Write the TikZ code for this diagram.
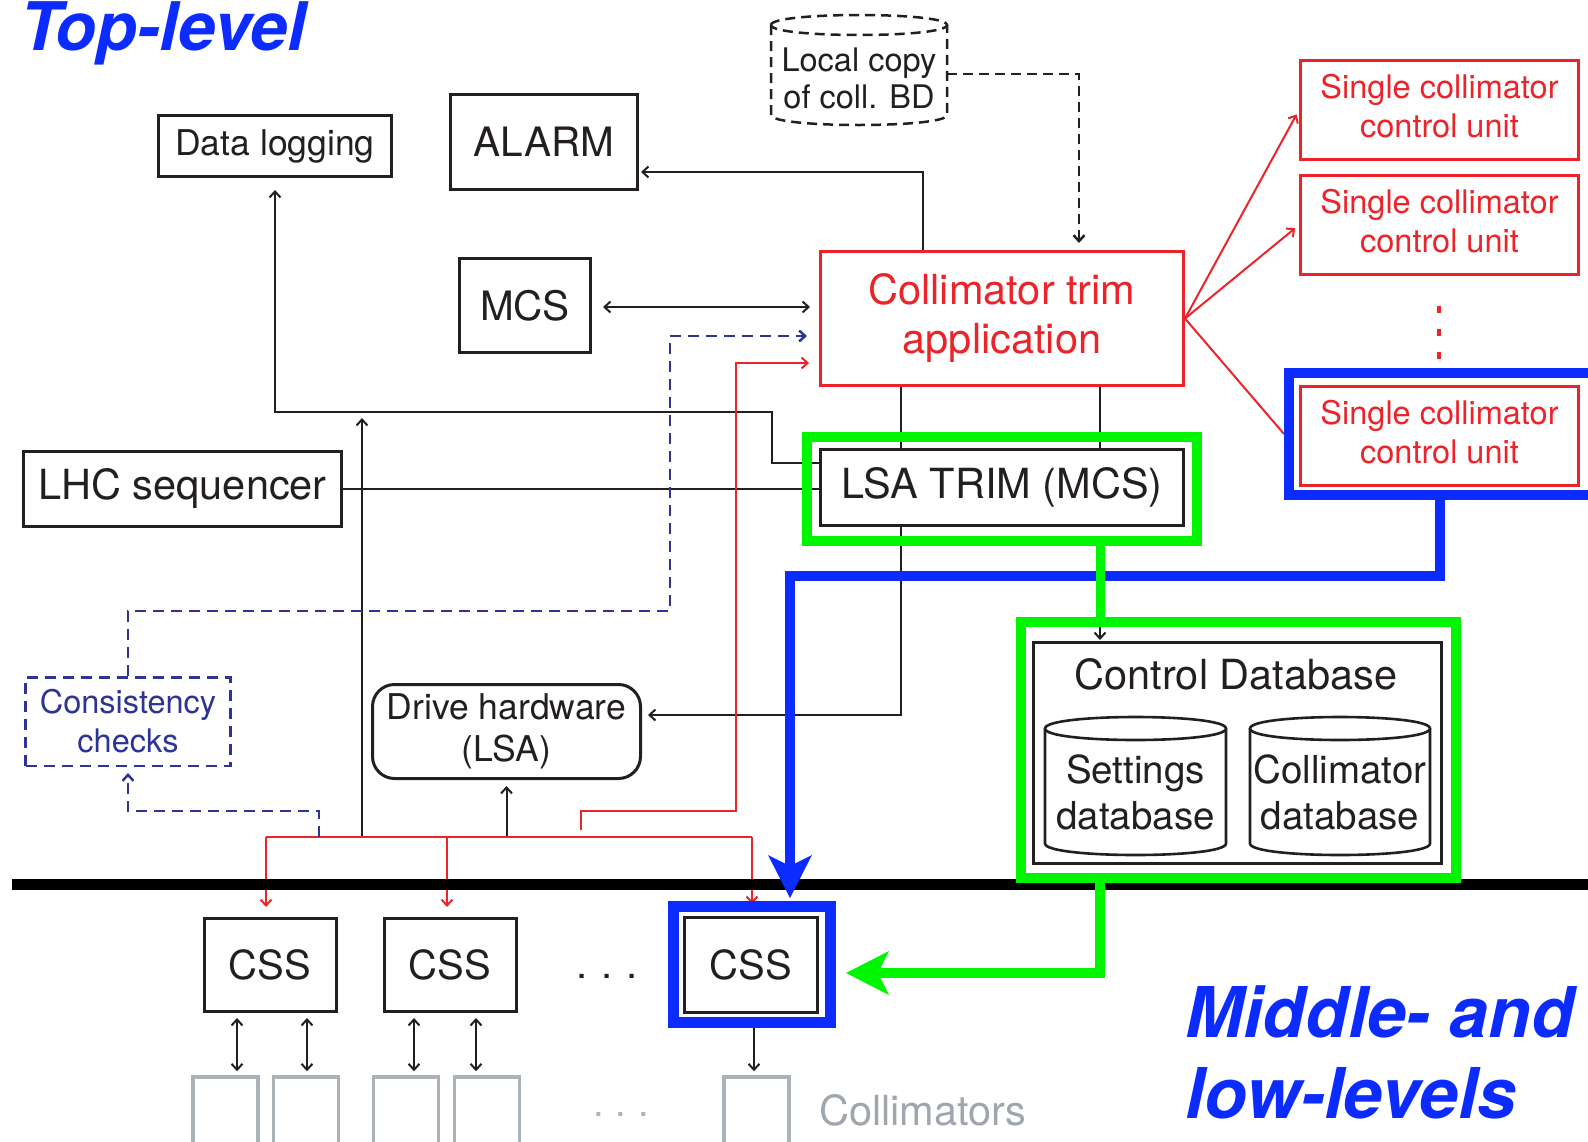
\documentclass[tikz,border=0pt]{standalone}
\usepackage{fontspec}
\setmainfont{TeX Gyre Heros}
\usetikzlibrary{arrows.meta}
\pgfdeclarelayer{back}
\pgfdeclarelayer{mid}
\pgfsetlayers{back,mid,main}

\definecolor{ink}{RGB}{35,31,32}
\definecolor{cred}{RGB}{236,36,42}
\definecolor{cblue}{RGB}{12,44,255}
\definecolor{cgreen}{RGB}{0,245,0}
\definecolor{cnavy}{RGB}{46,52,150}
\definecolor{cgray}{RGB}{172,178,186}
\definecolor{cgraytext}{RGB}{160,166,174}

\newcommand\fsz[2]{\fontsize{#1pt}{#2pt}\selectfont}

% database cylinder: #1 style, #2 left x, #3 right x, #4 top rim y, #5 bottom rim y, #6 rim half-height
\newcommand\dbcylinder[6]{%
  \draw[#1] (#2,#4) -- (#2,#5) .. controls (#2,{#5+1.3333*#6}) and (#3,{#5+1.3333*#6}) .. (#3,#5) -- (#3,#4);
  \draw[#1] (#2,#4) .. controls (#2,{#4-1.3333*#6}) and (#3,{#4-1.3333*#6}) .. (#3,#4)
            .. controls (#3,{#4+1.3333*#6}) and (#2,{#4+1.3333*#6}) .. (#2,#4) -- cycle;
}

\tikzset{
  barb/.tip={Straight Barb[length=6pt,width=11pt]},
  conn/.style={line width=2pt, draw=ink},
  heavy/.style={line width=2.6pt, draw=ink},
  arr/.style={conn, -barb, shorten >=6pt},
  darr/.style={conn, barb-barb},
  redl/.style={line width=2pt, draw=cred},
  redarr/.style={redl, -barb, shorten >=10pt},
  navyd/.style={line width=2.5pt, draw=cnavy, dash pattern=on 11pt off 7pt, -barb},
  blackd/.style={line width=2.5pt, draw=ink, dash pattern=on 10pt off 6pt},
  box/.style={draw=ink, line width=3pt, fill=white, inner sep=0pt, align=center, text=ink},
  unitbox/.style={box, draw=cred, text=cred, minimum width=278pt, minimum height=99pt, font=\fsz{32.5}{39}},
  cssbox/.style={box, minimum width=132pt, minimum height=93pt, font=\fsz{40}{48}},
  colbox/.style={draw=cgray, line width=3.5pt, inner sep=0pt, minimum width=65pt, minimum height=140pt},
  label/.style={inner sep=0pt, align=center, text=ink},
  heading/.style={text=cblue, font=\fsz{68}{81}\bfseries\itshape, inner sep=0pt, anchor=base west},
  ring/.style={inner sep=0pt, line width=10pt, fill=none},
  bigtip/.tip={Stealth[length=43pt,width=44pt,inset=11pt,line width=0pt]},
}

\begin{document}
\begin{tikzpicture}[x=1pt,y=-1pt,line join=miter]
\useasboundingbox (0,0) rectangle (1588,1141);
\clip (0,0) rectangle (1588,1141);

% ---------- headings ----------
\node[heading, font=\fsz{67}{81}\bfseries\itshape] (toplev) at (20,50) {Top-level};
\node[heading, font=\fsz{70}{81}\bfseries\itshape] (midlevA) at (1185,1037) {Middle- and};
\node[heading, font=\fsz{70}{81}\bfseries\itshape] (midlevB) at (1185,1118) {low-levels};

% ---------- top-level boxes ----------
\node[box, minimum width=233pt, minimum height=61pt, font=\fsz{35.5}{40}] (datalog) at (275,146) {Data logging};
\node[box, minimum width=187pt, minimum height=95pt, font=\fsz{40.5}{48}] (alarm) at (544,142) {ALARM};
\node[box, minimum width=131pt, minimum height=94pt, font=\fsz{40.5}{48}] (mcs) at (525,305.5) {MCS};
\node[label, minimum width=176pt, minimum height=110pt, font=\fsz{32.5}{37}] (localcopy) at (859,78) {Local copy\\of coll. BD};
\dbcylinder{blackd}{771}{947}{25}{115}{10}

\node[box, draw=cred, text=cred, minimum width=363pt, minimum height=134pt, font=\fsz{41.5}{49}] (trim) at (1002,318.5) {Collimator trim\\application};
\node[unitbox] (unitA) at (1439.5,110) {Single collimator\\control unit\rule[-8pt]{0pt}{0pt}};
\node[unitbox] (unitB) at (1439.5,225) {Single collimator\\control unit\rule[-8pt]{0pt}{0pt}};
\node[unitbox] (unitC) at (1439.5,435.5) {Single collimator\\control unit\rule[-8pt]{0pt}{0pt}};
\fill[cred] (1437,306) rectangle (1441,313);
\fill[cred] (1437,329) rectangle (1441,336);
\fill[cred] (1437,352) rectangle (1441,359);

\node[box, minimum width=363pt, minimum height=76pt, font=\fsz{41.5}{48}] (lsatrim) at (1002,487.5) {LSA TRIM (MCS)};
\node[box, minimum width=318pt, minimum height=75pt, font=\fsz{41.5}{48}] (lhcseq) at (182.5,489) {LHC sequencer};
\node[box, draw=cnavy, text=cnavy, line width=2.5pt, dash pattern=on 11pt off 7pt,
      minimum width=205pt, minimum height=88.5pt, font=\fsz{32.5}{39}] (consist) at (128,721.5) {Consistency\\checks};
\node[box, rounded corners=22pt, minimum width=268pt, minimum height=94pt, font=\fsz{35.5}{42}] (drive) at (506.5,731.5) {\rule{0pt}{16pt}Drive hardware\\(LSA)};

% ---------- control database ----------
\node[box, minimum width=408pt, minimum height=221pt] (ctrldb) at (1237.5,753) {};
\node[label, font=\fsz{41.5}{48}] (ctrltitle) at (1236,674) {Control Database};
\dbcylinder{line width=2.6pt, draw=ink}{1045}{1226}{728.5}{843.5}{11.5}
\dbcylinder{line width=2.6pt, draw=ink}{1250}{1430}{728.5}{843.5}{11.5}
\node[label, font=\fsz{38.5}{46}] (setdb) at (1135.5,792) {Settings\\database};
\node[label, font=\fsz{38.5}{46}] (colldb) at (1340,792) {Collimator\\database};

% ---------- middle / low level ----------
\node[cssbox] (css1) at (270,965) {CSS};
\node[cssbox] (css2) at (450,965) {CSS};
\node[cssbox, minimum width=133pt, minimum height=95pt] (css3) at (751,965) {CSS};
\node[label, font=\fsz{40}{48}, anchor=base] (cssdots) at (607,978) {.\hspace{14pt}.\hspace{14pt}.};

\node[colbox] (col1) at (225.5,1147) {};
\node[colbox] (col2) at (306,1147) {};
\node[colbox] (col3) at (406,1147) {};
\node[colbox] (col4) at (487,1147) {};
\node[colbox] (col5) at (756.5,1147) {};
\node[inner sep=0pt, text=cgray, font=\fsz{38}{46}, anchor=base] (coldots) at (621,1116) {.\hspace{12pt}.\hspace{12pt}.};
\node[inner sep=0pt, text=cgraytext, font=\fsz{41.5}{48}, anchor=base west] (colltext) at (819,1125) {Collimators};

% ---------- highlight frames ----------
\node[ring, draw=cgreen, minimum width=390pt, minimum height=104pt] (lsaring) at (1002,489) {};
\node[ring, draw=cgreen, minimum width=435pt, minimum height=256pt] (ctrlring) at (1238.5,750) {};
\node[ring, draw=cblue, minimum width=331pt, minimum height=122pt] (ringC) at (1454.5,434) {};
\node[ring, draw=cblue, minimum width=157pt, minimum height=116pt, line width=11pt] (cssring) at (752,964.5) {};

% ---------- bus coordinates ----------
\coordinate (busA) at (266,837);
\coordinate (busB) at (447,837);
\coordinate (busC) at (752,837);
\coordinate (busLog) at (362,837);
\coordinate (busCheck) at (319,837);
\coordinate (logLine) at (362,412);
\coordinate (redStub) at (581,830);

% ---------- thin connectors ----------
\begin{pgfonlayer}{back}
  \draw[arr, shorten >=2pt] (trim.north -| 923,0) |- (alarm.east |- 0,172);
  \draw[darr, shorten <=11pt, shorten >=9pt] (mcs.east |- 0,307) -- (trim.west |- 0,307);
  \draw[arr, shorten >=12pt] (lsatrim.west |- 0,463) -| (772,412) -| (datalog.south);
  \draw[heavy] (lhcseq.east) -- (lsatrim.west |- lhcseq.east);
  \draw[conn] (trim.south -| 1100,0) -- (lsatrim.north -| 1100,0);
  \draw[arr] (trim.south -| 901,0) |- (drive.east |- 0,715);
  \draw[arr] (busLog) -- (logLine);
  \draw[arr] (drive.south |- 0,837) -- (drive.south);
  \draw[arr, shorten >=1pt] (ctrlring.north -| 1100,0) -- (ctrldb.north -| 1100,0);
  \draw[blackd, -barb, shorten >=7pt] (localcopy.east |- 0,74) -| (trim.north -| 1079,0);

  % red control paths
  \draw[redl] (busA) -- (busC);
  \draw[redarr] (busA) -- (css1.north -| busA);
  \draw[redarr] (busB) -- (css2.north -| busB);
  \draw[redarr, shorten >=12pt] (busC) -- (css3.north -| busC);
  \draw[redarr] (redStub) |- (736,811) |- (trim.west |- 0,363);
  \draw[redarr, shorten >=5pt] (trim.east) -- (unitA.west);
  \draw[redarr, shorten >=5pt] (trim.east) -- (unitB.west);
  \draw[redl] (trim.east) -- (ringC.west);

  % consistency checks
  \draw[navyd, shorten >=12pt] (consist.north) |- (670,611) |- (trim.west |- 0,336);
  \draw[navyd, shorten >=6pt] (busCheck) -- (319,811) -| (consist.south);

  % CSS to collimators
  \draw[darr, shorten <=5pt, shorten >=4pt] (css1.south -| 237,0) -- (col1.north -| 237,0);
  \draw[darr, shorten <=5pt, shorten >=4pt] (css1.south -| 307,0) -- (col2.north -| 307,0);
  \draw[darr, shorten <=5pt, shorten >=4pt] (css2.south -| 414,0) -- (col3.north -| 414,0);
  \draw[darr, shorten <=5pt, shorten >=4pt] (css2.south -| 476,0) -- (col4.north -| 476,0);
  \draw[arr, shorten >=4pt] (cssring.south -| 754,0) -- (col5.north -| 754,0);
\end{pgfonlayer}

% ---------- level separator ----------
\begin{pgfonlayer}{mid}
  \draw[line width=11pt, black] (12,884) -- (1600,884);
\end{pgfonlayer}

% ---------- highlighted data paths ----------
\draw[line width=10pt, cblue, -bigtip, shorten >=3pt] (ringC.south -| unitC.south) |- (790,576) -- (cssring.north -| 790,0);
\draw[line width=9pt, cgreen] (lsaring.south -| 1100,0) -- (ctrlring.north -| 1100,0);
\draw[line width=10pt, cgreen, -bigtip, shorten >=10pt] (ctrlring.south -| 1100,0) |- (cssring.east |- 0,973);
\end{tikzpicture}
\end{document}
